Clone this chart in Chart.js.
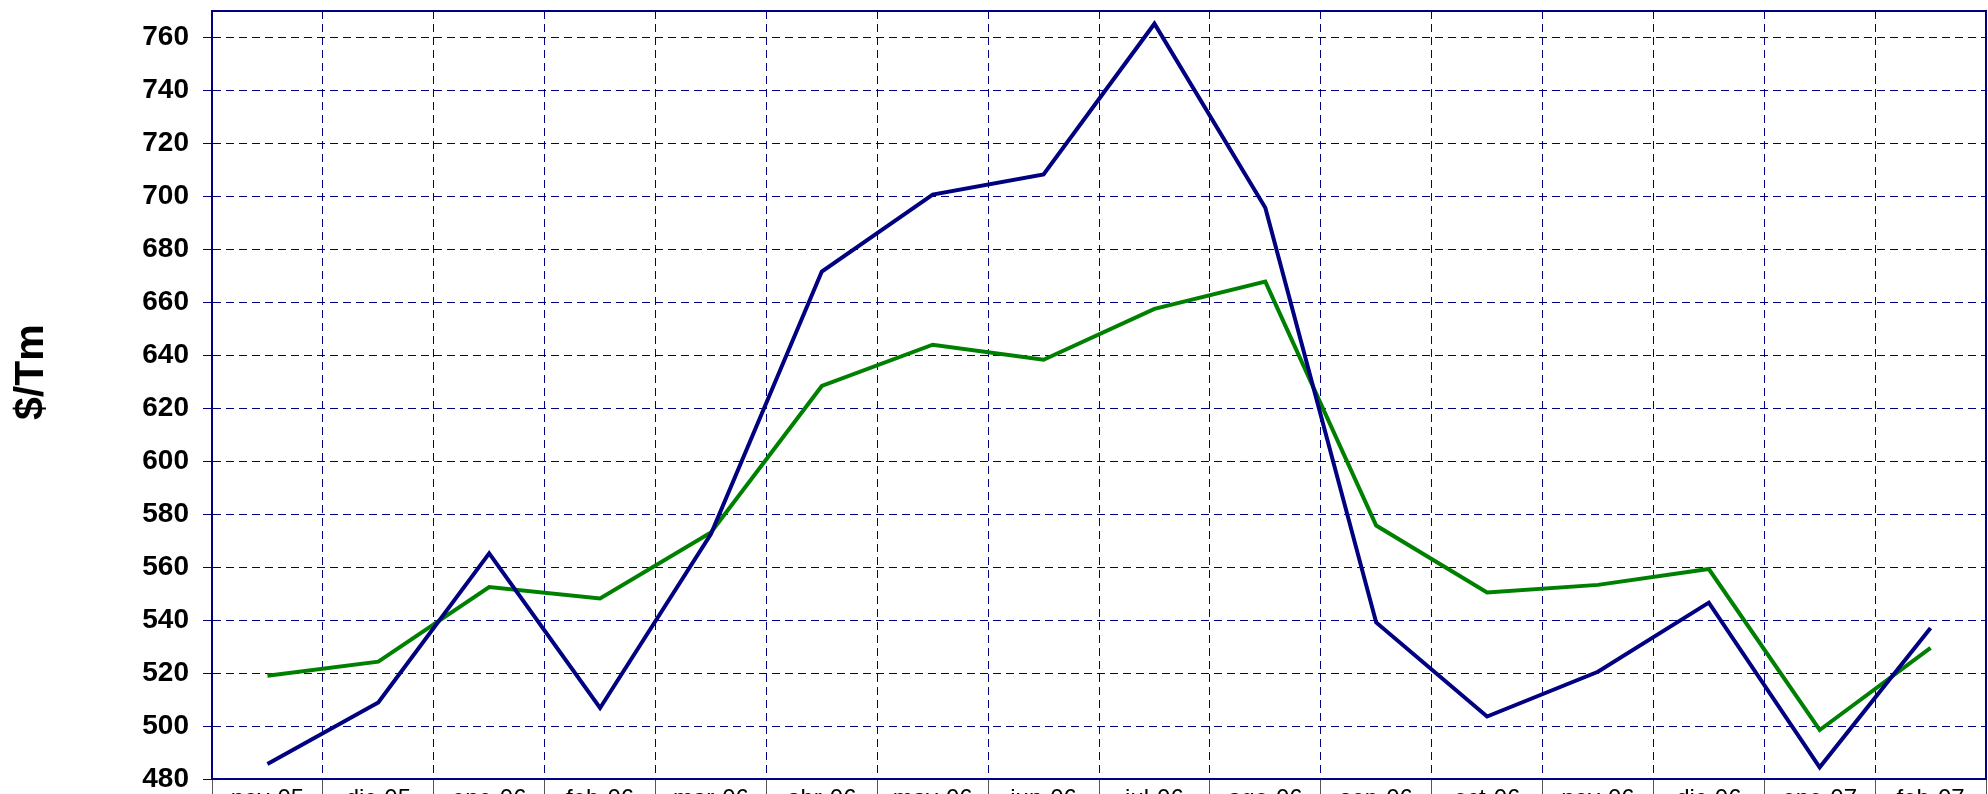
<!DOCTYPE html>
<html>
<head>
<meta charset="utf-8">
<script src="https://cdn.jsdelivr.net/npm/chart.js@4"></script>
<style>
html,body{margin:0;padding:0;overflow:hidden;background:#fff;}
#wrap{width:1988px;height:830px;}
</style>
</head>
<body>
<div id="wrap"><canvas id="c" width="1988" height="830"></canvas></div>
<script>
const categories = ["nov-05","dic-05","ene-06","feb-06","mar-06","abr-06","may-06","jun-06","jul-06","ago-06","sep-06","oct-06","nov-06","dic-06","ene-07","feb-07"];
const seriesBlue = [485.7, 508.9, 565.2, 506.8, 572.5, 671.6, 700.7, 708.3, 765.2, 695.7, 539.1, 503.6, 520.5, 546.6, 484.4, 537.0];
const seriesGreen = [519.0, 524.3, 552.5, 548.2, 573.1, 628.4, 644.0, 638.3, 657.5, 667.8, 575.7, 550.4, 553.3, 559.3, 498.5, 529.5];
const yTickValues = [480,500,520,540,560,580,600,620,640,660,680,700,720,740,760];
const yAxisTitle = "$/Tm";

const NAVY = '#000080';
const FONT = "'Liberation Sans', Arial, sans-serif";

const framePlugin = {
  id: 'frame',
  afterDraw(chart) {
    const {ctx, chartArea: a} = chart;
    ctx.save();
    ctx.strokeStyle = NAVY;
    ctx.lineWidth = 2;
    ctx.beginPath();
    ctx.moveTo(a.left, a.top);
    ctx.lineTo(a.right, a.top);
    ctx.lineTo(a.right, a.bottom);
    ctx.stroke();
    ctx.restore();
  }
};

new Chart(document.getElementById('c'), {
  type: 'line',
  data: {
    labels: categories,
    datasets: [
      {data: seriesBlue, borderColor: '#000080', borderWidth: 4, pointRadius: 0, tension: 0, fill: false},
      {data: seriesGreen, borderColor: '#008000', borderWidth: 4, pointRadius: 0, tension: 0, fill: false}
    ]
  },
  options: {
    responsive: false,
    animation: false,
    events: [],
    layout: {padding: {top: 11, right: 2, left: 0, bottom: 0}},
    plugins: {legend: {display: false}, tooltip: {enabled: false}},
    scales: {
      x: {
        offset: true,
        grid: {
          offset: true, color: NAVY, lineWidth: 1,
          tickLength: 20, tickColor: '#555555', tickBorderDash: []
        },
        border: {color: NAVY, width: 2, dash: [8, 5]},
        ticks: {
          color: '#000', font: {family: FONT, size: 24}, padding: -14,
          maxRotation: 0, autoSkip: false
        },
        afterFit(scale) { scale.height = 51; scale.paddingLeft = 0; scale.paddingRight = 0; }
      },
      y: {
        min: 480, max: 770,
        grid: {color: NAVY, lineWidth: 1, tickLength: 9, tickColor: NAVY, tickBorderDash: []},
        border: {color: NAVY, width: 2, dash: [8, 5]},
        ticks: {color: '#000', font: {family: FONT, size: 28, weight: 'bold'}, padding: 14},
        afterBuildTicks(scale) { scale.ticks = yTickValues.map(v => ({value: v})); },
        title: {
          display: true, text: '    ' + yAxisTitle, color: '#000',
          font: {family: FONT, size: 41, weight: 'bold'}, padding: {top: 7, bottom: 0}
        },
        afterFit(scale) { scale.width = 212; scale.paddingTop = 0; scale.paddingBottom = 0; }
      }
    }
  },
  plugins: [framePlugin]
});
</script>
</body>
</html>
